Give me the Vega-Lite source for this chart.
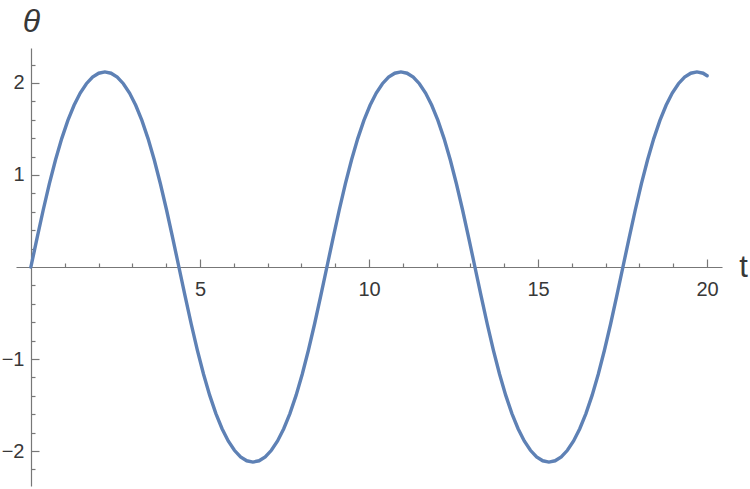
{
  "$schema": "https://vega.github.io/schema/vega-lite/v6.json",
  "description": "Pendulum angle theta against time t, Mathematica-style axes crossing at the origin.",
  "width": 706,
  "height": 438,
  "autosize": {"type": "none"},
  "padding": {"left": 16, "top": 48, "right": 28, "bottom": 3},
  "background": "white",
  "config": {
    "view": {"stroke": null},
    "axis": {
      "grid": false,
      "domainColor": "#777777",
      "tickColor": "#777777",
      "domainWidth": 1.2,
      "tickWidth": 1.2,
      "labelFont": "Liberation Sans",
      "labelFontSize": 20,
      "labelColor": "#383838",
      "titleFont": "Liberation Sans",
      "titleColor": "#383838",
      "titleFontWeight": "normal"
    }
  },
  "data": {
    "values": [
      {"t": 0, "theta": 0},
      {"t": 0.1824, "theta": 0.3147},
      {"t": 0.3648, "theta": 0.6194},
      {"t": 0.5472, "theta": 0.9051},
      {"t": 0.7296, "theta": 1.1652},
      {"t": 0.912, "theta": 1.3952},
      {"t": 1.0944, "theta": 1.593},
      {"t": 1.2768, "theta": 1.7579},
      {"t": 1.4592, "theta": 1.8906},
      {"t": 1.6416, "theta": 1.9921},
      {"t": 1.824, "theta": 2.0635},
      {"t": 2.0064, "theta": 2.1059},
      {"t": 2.1888, "theta": 2.1199},
      {"t": 2.3711, "theta": 2.1059},
      {"t": 2.5535, "theta": 2.0635},
      {"t": 2.7359, "theta": 1.9921},
      {"t": 2.9183, "theta": 1.8906},
      {"t": 3.1007, "theta": 1.7579},
      {"t": 3.2831, "theta": 1.593},
      {"t": 3.4655, "theta": 1.3952},
      {"t": 3.6479, "theta": 1.1652},
      {"t": 3.8303, "theta": 0.9051},
      {"t": 4.0127, "theta": 0.6194},
      {"t": 4.1951, "theta": 0.3147},
      {"t": 4.3775, "theta": 0},
      {"t": 4.5599, "theta": -0.3147},
      {"t": 4.7423, "theta": -0.6194},
      {"t": 4.9247, "theta": -0.9051},
      {"t": 5.1071, "theta": -1.1652},
      {"t": 5.2895, "theta": -1.3952},
      {"t": 5.4719, "theta": -1.593},
      {"t": 5.6543, "theta": -1.7579},
      {"t": 5.8367, "theta": -1.8906},
      {"t": 6.0191, "theta": -1.9921},
      {"t": 6.2015, "theta": -2.0635},
      {"t": 6.3839, "theta": -2.1059},
      {"t": 6.5663, "theta": -2.1199},
      {"t": 6.7487, "theta": -2.1059},
      {"t": 6.9311, "theta": -2.0635},
      {"t": 7.1134, "theta": -1.9921},
      {"t": 7.2958, "theta": -1.8906},
      {"t": 7.4782, "theta": -1.7579},
      {"t": 7.6606, "theta": -1.593},
      {"t": 7.843, "theta": -1.3952},
      {"t": 8.0254, "theta": -1.1652},
      {"t": 8.2078, "theta": -0.9051},
      {"t": 8.3902, "theta": -0.6194},
      {"t": 8.5726, "theta": -0.3147},
      {"t": 8.755, "theta": 0},
      {"t": 8.9374, "theta": 0.3147},
      {"t": 9.1198, "theta": 0.6194},
      {"t": 9.3022, "theta": 0.9051},
      {"t": 9.4846, "theta": 1.1652},
      {"t": 9.667, "theta": 1.3952},
      {"t": 9.8494, "theta": 1.593},
      {"t": 10.0318, "theta": 1.7579},
      {"t": 10.2142, "theta": 1.8906},
      {"t": 10.3966, "theta": 1.9921},
      {"t": 10.579, "theta": 2.0635},
      {"t": 10.7614, "theta": 2.1059},
      {"t": 10.9438, "theta": 2.1199},
      {"t": 11.1261, "theta": 2.1059},
      {"t": 11.3085, "theta": 2.0635},
      {"t": 11.4909, "theta": 1.9921},
      {"t": 11.6733, "theta": 1.8906},
      {"t": 11.8557, "theta": 1.7579},
      {"t": 12.0381, "theta": 1.593},
      {"t": 12.2205, "theta": 1.3952},
      {"t": 12.4029, "theta": 1.1652},
      {"t": 12.5853, "theta": 0.9051},
      {"t": 12.7677, "theta": 0.6194},
      {"t": 12.9501, "theta": 0.3147},
      {"t": 13.1325, "theta": 0},
      {"t": 13.3149, "theta": -0.3147},
      {"t": 13.4973, "theta": -0.6194},
      {"t": 13.6797, "theta": -0.9051},
      {"t": 13.8621, "theta": -1.1652},
      {"t": 14.0445, "theta": -1.3952},
      {"t": 14.2269, "theta": -1.593},
      {"t": 14.4093, "theta": -1.7579},
      {"t": 14.5917, "theta": -1.8906},
      {"t": 14.7741, "theta": -1.9921},
      {"t": 14.9565, "theta": -2.0635},
      {"t": 15.1389, "theta": -2.1059},
      {"t": 15.3213, "theta": -2.1199},
      {"t": 15.5037, "theta": -2.1059},
      {"t": 15.6861, "theta": -2.0635},
      {"t": 15.8684, "theta": -1.9921},
      {"t": 16.0508, "theta": -1.8906},
      {"t": 16.2332, "theta": -1.7579},
      {"t": 16.4156, "theta": -1.593},
      {"t": 16.598, "theta": -1.3952},
      {"t": 16.7804, "theta": -1.1652},
      {"t": 16.9628, "theta": -0.9051},
      {"t": 17.1452, "theta": -0.6194},
      {"t": 17.3276, "theta": -0.3147},
      {"t": 17.51, "theta": 0},
      {"t": 17.6924, "theta": 0.3147},
      {"t": 17.8748, "theta": 0.6194},
      {"t": 18.0572, "theta": 0.9051},
      {"t": 18.2396, "theta": 1.1652},
      {"t": 18.422, "theta": 1.3952},
      {"t": 18.6044, "theta": 1.593},
      {"t": 18.7868, "theta": 1.7579},
      {"t": 18.9692, "theta": 1.8906},
      {"t": 19.1516, "theta": 1.9921},
      {"t": 19.334, "theta": 2.0635},
      {"t": 19.5164, "theta": 2.1059},
      {"t": 19.6988, "theta": 2.1199},
      {"t": 19.8812, "theta": 2.1059},
      {"t": 20, "theta": 2.078}
    ]
  },
  "layer": [
    {
      "mark": {"type": "line", "opacity": 0},
      "encoding": {
        "x": {
          "field": "t",
          "type": "quantitative",
          "scale": {"domain": [-0.44, 20.44], "nice": false, "zero": false},
          "axis": {
            "orient": "bottom",
            "offset": -219,
            "values": [1, 2, 3, 4, 6, 7, 8, 9, 11, 12, 13, 14, 16, 17, 18, 19],
            "labels": false,
            "domain": false,
            "tickSize": -4,
            "title": null
          }
        },
        "y": {
          "field": "theta",
          "type": "quantitative",
          "scale": {"domain": [-2.38, 2.38], "nice": false, "zero": false},
          "axis": {
            "orient": "left",
            "offset": -15,
            "values": [-2.2, -1.8, -1.6, -1.4, -1.2, -0.8, -0.6, -0.4, -0.2, 0.2, 0.4, 0.6, 0.8, 1.2, 1.4, 1.6, 1.8, 2.2],
            "labels": false,
            "domain": false,
            "tickSize": -4,
            "title": null
          }
        }
      }
    },
    {
      "mark": {"type": "line", "color": "#5E81B5", "strokeWidth": 3.4, "strokeCap": "round"},
      "encoding": {
        "x": {
          "field": "t",
          "type": "quantitative",
          "scale": {"domain": [-0.44, 20.44], "nice": false, "zero": false},
          "axis": {
            "orient": "bottom",
            "offset": -219,
            "values": [5, 10, 15, 20],
            "tickSize": -8,
            "labelPadding": 20,
            "title": "t",
            "titleFontSize": 31,
            "titleAngle": 0,
            "titleAlign": "center",
            "titleBaseline": "middle",
            "titleX": 727,
            "titleY": 0
          }
        },
        "y": {
          "field": "theta",
          "type": "quantitative",
          "scale": {"domain": [-2.38, 2.38], "nice": false, "zero": false},
          "axis": {
            "orient": "left",
            "offset": -15,
            "values": [-2, -1, 1, 2],
            "tickSize": -8,
            "labelPadding": 15,
            "title": "θ",
            "titleFontSize": 32,
            "titleFontStyle": "italic",
            "titleAngle": 0,
            "titleAlign": "center",
            "titleBaseline": "middle",
            "titleX": 0,
            "titleY": -27
          }
        }
      }
    }
  ],
  "resolve": {"axis": {"x": "independent", "y": "independent"}}
}
